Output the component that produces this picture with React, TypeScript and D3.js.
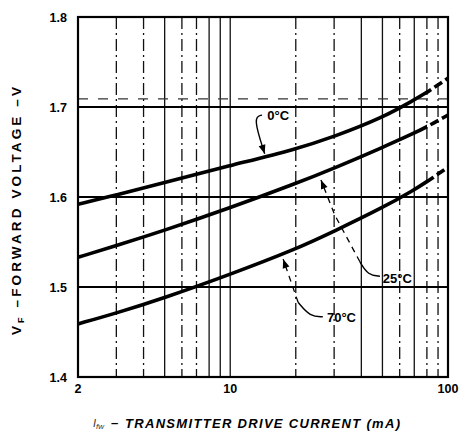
import React from 'react';
import * as d3 from 'd3';

// ---- data ----
const currents = [2, 3, 5, 10, 20, 30, 50, 70, 80, 100];
const v0C = [1.592, 1.602, 1.616, 1.635, 1.653, 1.667, 1.688, 1.708, 1.716, 1.732];
const v25C = [1.533, 1.546, 1.563, 1.588, 1.615, 1.632, 1.655, 1.671, 1.678, 1.691];
const v70C = [1.459, 1.471, 1.488, 1.514, 1.542, 1.562, 1.588, 1.608, 1.617, 1.633];
const dashedFrom = 80;

const xTickLabels = [2, 10, 100];
const yTickLabels = [1.4, 1.5, 1.6, 1.7, 1.8];
const yGridValues = [1.5, 1.6, 1.7];
const yGridFaint = [1.709];
const xGridSolid = [5, 8, 9, 10, 40, 50, 70];
const xGridDashed = [3, 4, 6, 7, 20, 30, 60, 80, 90];

// annotations (data coordinates): text start, leader path (last point = arrow tip)
const annotations = [
  { label: '0°C', text: [14.8, 1.686], solid: [[14.0, 1.691], [12.7, 1.689], [14.4, 1.648]], dashed: [] as number[][] },
  { label: '25°C', text: [50.2, 1.504], solid: [[48.7, 1.512], [43.0, 1.513], [39.4, 1.528]], dashed: [[39.4, 1.528], [30.2, 1.580], [26.1, 1.619]] },
  { label: '70°C', text: [27.8, 1.461], solid: [[26.6, 1.467], [23.3, 1.467], [20.5, 1.483]], dashed: [[20.5, 1.483], [17.5, 1.531]] },
];

const W = 463, H = 432;
const L = 78, R = 448, T = 17, B = 377;
const FONT = '"Liberation Sans", Arial, Helvetica, sans-serif';

export default function App() {
  const x = d3.scaleLog().domain([2, 100]).range([L, R]);
  const y = d3.scaleLinear().domain([1.4, 1.8]).range([B, T]);

  const line = d3.line<[number, number]>()
    .x(d => x(d[0]))
    .y(d => y(d[1]))
    .curve(d3.curveBasis);

  const series = [v0C, v25C, v70C].map(vals => currents.map((c, i) => [c, vals[i]] as [number, number]));

  const plain = d3.line<number[]>().x(d => x(d[0])).y(d => y(d[1]));
  const smooth = d3.line<number[]>().x(d => x(d[0])).y(d => y(d[1])).curve(d3.curveBasis);

  const arrowHead = (pts: number[][]) => {
    const tip = pts[pts.length - 1];
    const prev = pts[pts.length - 2];
    const tx = x(tip[0]), ty = y(tip[1]);
    const px = x(prev[0]), py = y(prev[1]);
    const dx = tx - px, dy = ty - py;
    const len = Math.hypot(dx, dy);
    const ux = dx / len, uy = dy / len;
    const bl = 9, hw = 3.5;
    const bx = tx - ux * bl, by = ty - uy * bl;
    return `${tx},${ty} ${bx - uy * hw},${by + ux * hw} ${bx + uy * hw},${by - ux * hw}`;
  };

  const xSplit = x(dashedFrom);

  return (
    <svg width={W} height={H} style={{ position: 'absolute', left: 0, top: 0, background: '#fff' }}
      fontFamily={FONT}>
      <defs>
        <clipPath id="solidPart"><rect x={0} y={0} width={xSplit} height={H} /></clipPath>
        <clipPath id="dashPart"><rect x={xSplit} y={0} width={W - xSplit} height={H} /></clipPath>
      </defs>
      <rect x={0} y={0} width={W} height={H} fill="#fff" />
      {/* vertical grid */}
      {xGridSolid.map(v => (
        <line key={'vs' + v} x1={x(v)} x2={x(v)} y1={T} y2={B} stroke="#111" strokeWidth={1.3} />
      ))}
      {xGridDashed.map(v => (
        <line key={'vd' + v} x1={x(v)} x2={x(v)} y1={T} y2={B} stroke="#111" strokeWidth={1.3}
          strokeDasharray="12,4,2,4" />
      ))}
      {/* horizontal grid */}
      {yGridValues.map(v => (
        <line key={'h' + v} x1={L} x2={R} y1={y(v)} y2={y(v)} stroke="#000" strokeWidth={2} />
      ))}
      {yGridFaint.map(v => (
        <line key={'hf' + v} x1={L} x2={R} y1={y(v)} y2={y(v)} stroke="#333" strokeWidth={1.1}
          strokeDasharray="10,10" />
      ))}
      {/* frame */}
      <rect x={L} y={T} width={R - L} height={B - T} fill="none" stroke="#000" strokeWidth={2.2} />

      {/* curves */}
      {series.map((pts, i) => (
        <g key={'s' + i}>
          <path d={line(pts) || ''} fill="none" stroke="#000" strokeWidth={3.6} clipPath="url(#solidPart)" />
          <path d={line(pts) || ''} fill="none" stroke="#000" strokeWidth={3.6} strokeDasharray="9,4"
            clipPath="url(#dashPart)" />
        </g>
      ))}

      {/* annotations */}
      {annotations.map(a => {
        const full = a.dashed.length ? a.dashed : a.solid;
        return (
          <g key={a.label}>
            <path d={smooth(a.solid) || ''} fill="none" stroke="#000" strokeWidth={1.4} />
            {a.dashed.length > 0 && (
              <path d={plain(a.dashed) || ''} fill="none" stroke="#000" strokeWidth={1.3} strokeDasharray="6,5" />
            )}
            <polygon points={arrowHead(full)} fill="#000" />
            <text x={x(a.text[0])} y={y(a.text[1])} fontSize={13} fontWeight="bold" fill="#000">{a.label}</text>
          </g>
        );
      })}

      {/* y tick labels */}
      {yTickLabels.map(v => (
        <text key={'yt' + v} x={67} y={y(v) + 5} textAnchor="end" fontSize={12.5} fontWeight="bold">
          {v.toFixed(1)}
        </text>
      ))}
      {/* x tick labels */}
      {xTickLabels.map(v => (
        <text key={'xt' + v} x={x(v)} y={393} textAnchor="middle" fontSize={12.5} fontWeight="bold">
          {v}
        </text>
      ))}

      {/* y axis title */}
      <text transform="translate(21,211) rotate(-90)" textAnchor="middle" fontSize={13.5} fontWeight="bold"
        textLength={248} lengthAdjust="spacing">
        V<tspan fontSize={9} dy={3}>F</tspan><tspan dy={-3}> –FORWARD VOLTAGE –V</tspan>
      </text>

      {/* x axis title */}
      <text x={93} y={427} fontSize={11} fontStyle="italic" fill="#333">
        I<tspan fontSize={8} dy={2}>fw</tspan>
      </text>
      <text x={111} y={427} fontSize={13} fontWeight="bold">–</text>
      <text x={125} y={428} fontSize={13} fontWeight="bold" fontStyle="italic" textLength={275}
        lengthAdjust="spacing">TRANSMITTER DRIVE CURRENT (mA)</text>
    </svg>
  );
}
